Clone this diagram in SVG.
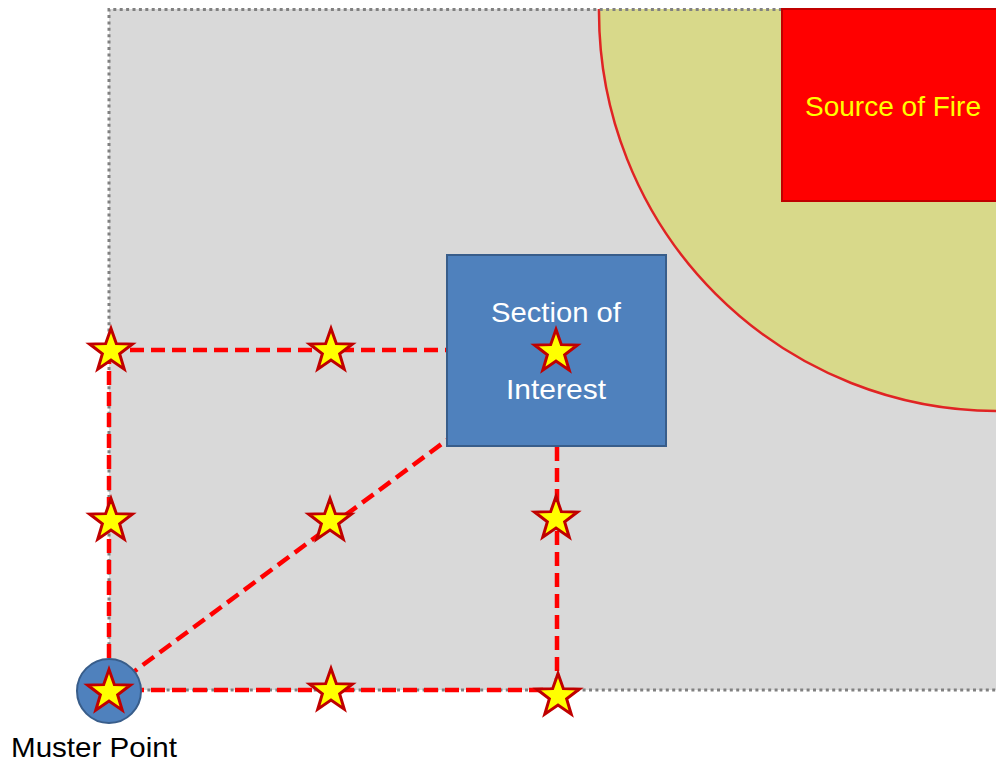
<svg xmlns="http://www.w3.org/2000/svg" width="996" height="763" viewBox="0 0 996 763">
  <defs>
    <style>
      .lbl { font-family: "Liberation Sans", "Open Sans", sans-serif; font-size: 28px; }
      .route { fill: none; stroke: #ff0000; stroke-width: 4.5; stroke-dasharray: 14 7; }
      .star { fill: #ffff00; stroke: #c00000; stroke-width: 3; stroke-linejoin: miter; }
    </style>
    <path id="star" d="M0,-22.5 L5.35,-7.36 L21.4,-6.95 L8.65,2.81 L13.23,18.2 L0,9.1 L-13.23,18.2 L-8.65,2.81 L-21.4,-6.95 L-5.35,-7.36 Z"/>
    <clipPath id="site-clip">
      <rect x="109" y="9" width="900" height="681"/>
    </clipPath>
  </defs>

  <!-- site area -->
  <g id="site">
    <rect x="109" y="9" width="900" height="681" fill="#d9d9d9"/>
  </g>

  <!-- danger zone around the fire -->
  <g id="hazard-zone" clip-path="url(#site-clip)">
    <circle cx="998" cy="12" r="399" fill="#d8d98a" stroke="#e02424" stroke-width="2.5"/>
  </g>

  <!-- dotted site boundary -->
  <path d="M109,690 V9.5 H996 M109,690 H996" fill="none" stroke="#808080" stroke-width="3" stroke-dasharray="3 3.4"/>

  <g id="source-of-fire">
    <rect x="782" y="9" width="220" height="192" fill="#ff0000" stroke="#c00000" stroke-width="2"/>
    <text class="lbl" x="893" y="116" text-anchor="middle" fill="#ffff00" textLength="176" lengthAdjust="spacingAndGlyphs">Source of Fire</text>
  </g>

  <!-- evacuation routes -->
  <g id="connectors">
    <line class="route" x1="109" y1="350" x2="447" y2="350"/>
    <line class="route" x1="109" y1="350" x2="109" y2="690"/>
    <line class="route" x1="109" y1="690" x2="557" y2="690"/>
    <line class="route" x1="557" y1="447" x2="557" y2="690"/>
    <line class="route" x1="109" y1="690" x2="447" y2="440"/>
  </g>

  <g id="section-of-interest">
    <rect x="447" y="255" width="219" height="191" fill="#4f81bd" stroke="#385d8a" stroke-width="2"/>
    <text class="lbl" x="556" y="322" text-anchor="middle" fill="#ffffff" textLength="130" lengthAdjust="spacingAndGlyphs">Section of</text>
    <text class="lbl" x="556" y="399" text-anchor="middle" fill="#ffffff" textLength="100" lengthAdjust="spacingAndGlyphs">Interest</text>
    <use href="#star" class="star" x="556" y="352"/>
  </g>

  <g id="muster-point">
    <circle cx="109" cy="691" r="32" fill="#4f81bd" stroke="#385d8a" stroke-width="2"/>
    <use href="#star" class="star" x="109" y="692"/>
    <text class="lbl" x="94" y="757" text-anchor="middle" fill="#000000" font-size="26" textLength="166" lengthAdjust="spacingAndGlyphs">Muster Point</text>
  </g>

  <!-- waypoints along the routes -->
  <g id="waypoints">
    <use href="#star" class="star" x="111" y="351"/>
    <use href="#star" class="star" x="331" y="351"/>
    <use href="#star" class="star" x="111" y="521"/>
    <use href="#star" class="star" x="330" y="521"/>
    <use href="#star" class="star" x="556" y="519"/>
    <use href="#star" class="star" x="331" y="691"/>
    <use href="#star" class="star" x="558" y="696"/>
  </g>
</svg>
